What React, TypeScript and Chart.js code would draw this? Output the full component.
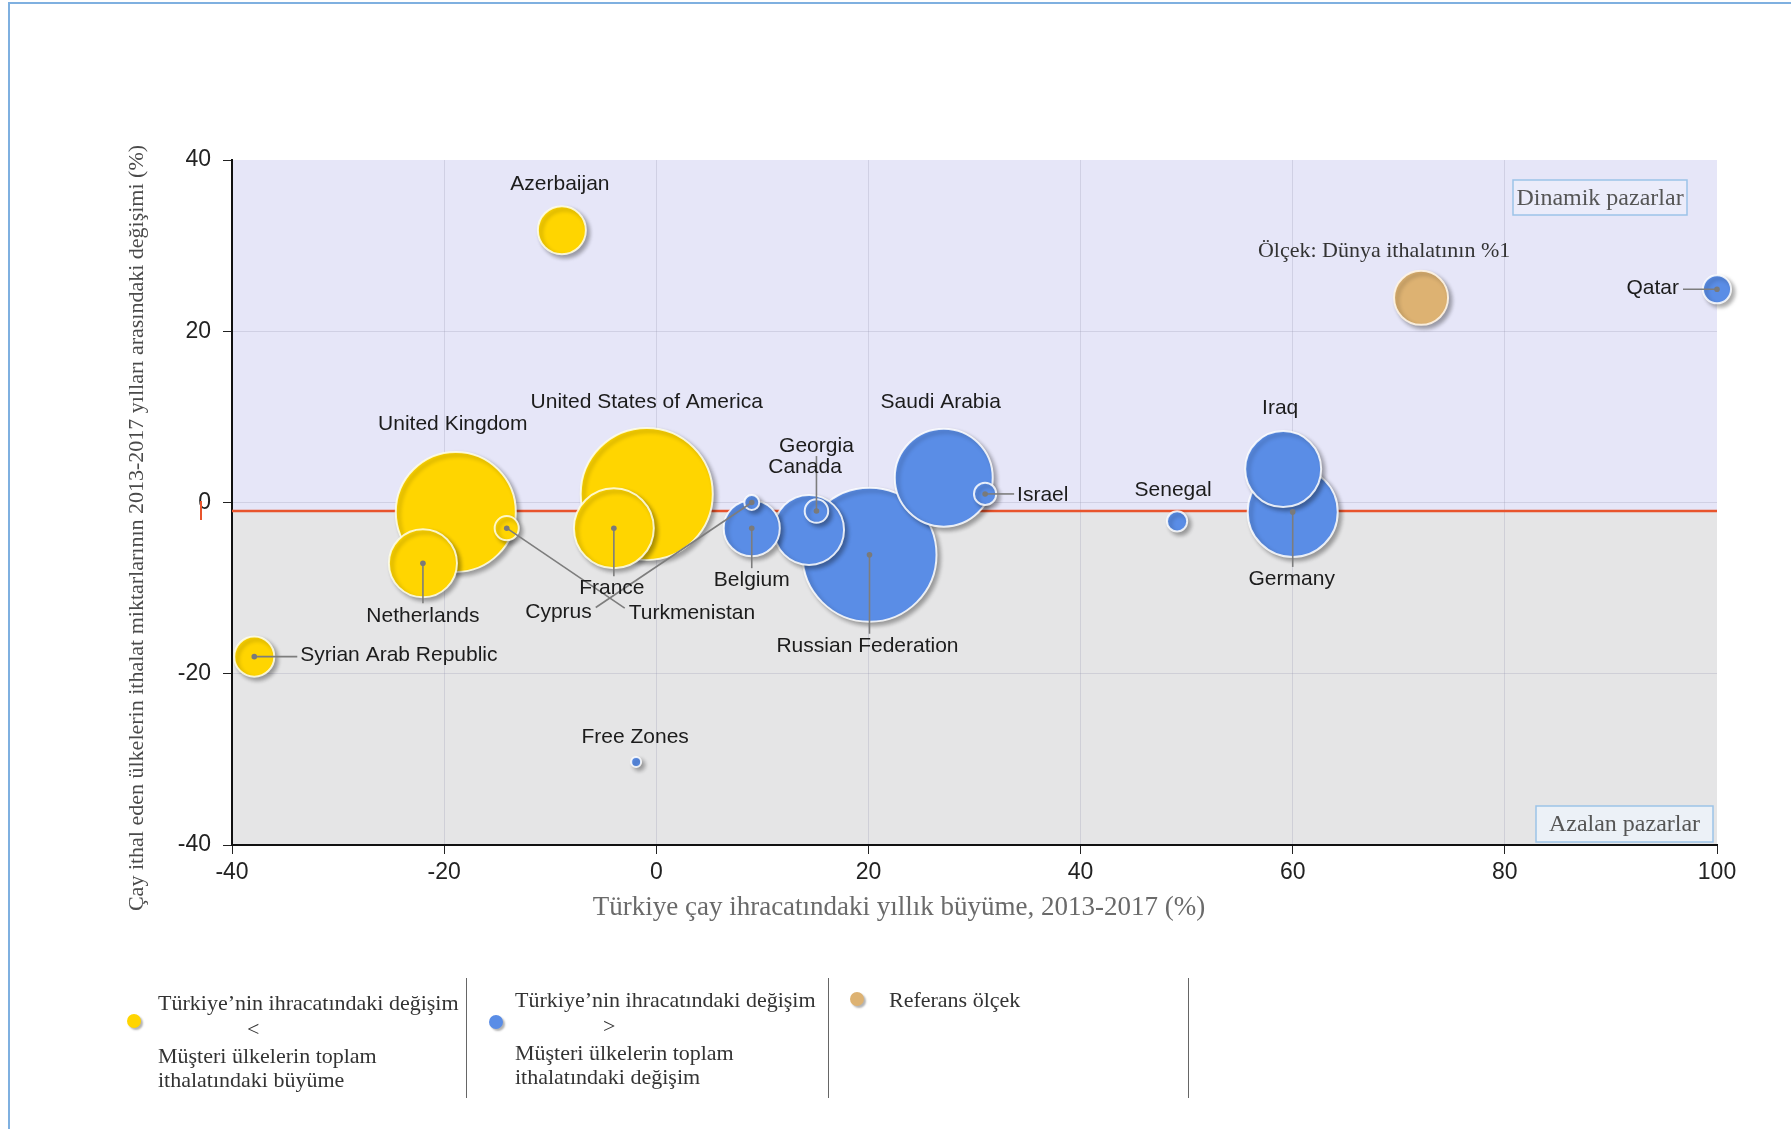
import React, { useEffect, useRef } from "react";
import { Chart, registerables } from "chart.js";

Chart.register(...registerables);

// ---------------- DATA ----------------
const countries = [
  "Azerbaijan", "United Kingdom", "Netherlands", "Turkmenistan", "United States of America",
  "France", "Syrian Arab Republic", "Free Zones", "Belgium", "Cyprus", "Canada", "Georgia",
  "Russian Federation", "Saudi Arabia", "Israel", "Senegal", "Iraq", "Germany", "Qatar",
];
// Türkiye çay ihracatındaki yıllık büyüme, 2013-2017 (%)
const exportGrowth = [
  -8.9, -18.9, -22.0, -14.1, -0.9, -4.0, -37.9, -1.9, 9.0, 9.0, 14.4, 15.1,
  20.1, 27.1, 31.0, 49.1, 59.1, 60.0, 100,
];
// İthalat miktarlarının 2013-2017 arasındaki değişimi (%)
const importChange = [
  31.8, -1.1, -7.1, -3.0, 1.0, -3.0, -18.0, -30.3, -3.0, 0.0, -3.2, -1.0,
  -6.1, 2.9, 1.0, -2.2, 3.9, -1.1, 24.9,
];
// Dünya ithalatındaki pay (%) -> bubble size
const worldImportShare = [
  0.79, 4.94, 1.59, 0.2, 5.98, 2.19, 0.55, 0.034, 1.08, 0.077, 1.68, 0.19,
  6.16, 3.29, 0.17, 0.14, 1.98, 2.78, 0.27,
];
// "<" : Türkiye'nin ihracatındaki değişim < müşteri ülkelerin ithalat büyümesi
const comparison = [
  "<", "<", "<", "<", "<", "<", "<", ">", ">", ">", ">", ">",
  ">", ">", ">", ">", ">", ">", ">",
];
const referenceName = "Ölçek: Dünya ithalatının %1";
const referencePoint = { x: 72.1, y: 23.9, share: 1 };
const worldAverageImportChange = -1;

const xTicks = [-40, -20, 0, 20, 40, 60, 80, 100];
const yTicks = [-40, -20, 0, 20, 40];

// ---------------- STYLES ----------------
const W = 1791;
const H = 1129;
const REF_RADIUS = 27;
const YELLOW = "#FFD500";
const BLUE = "#5A8DE6";
const TAN = "#DDB272";
const SANS = '"Liberation Sans", Arial, sans-serif';
const SERIF = '"Liberation Serif", "Times New Roman", serif';

type LabelStyle = { dx: number; dy: number; align?: CanvasTextAlign; lx?: number; ly?: number };
const labelLayout: Record<string, LabelStyle> = {
  "Azerbaijan": { dx: -2, dy: -46 },
  "United Kingdom": { dx: -3, dy: -88 },
  "United States of America": { dx: 0, dy: -92 },
  "Netherlands": { dx: 0, dy: 53, lx: 0, ly: 40 },
  "Turkmenistan": { dx: 122, dy: 85, align: "left", lx: 118, ly: 80 },
  "France": { dx: -2, dy: 60, lx: 0, ly: 48 },
  "Syrian Arab Republic": { dx: 46, dy: -1, align: "left", lx: 43, ly: 0 },
  "Free Zones": { dx: -1, dy: -25 },
  "Belgium": { dx: 0, dy: 52, lx: 0, ly: 40 },
  "Cyprus": { dx: -160, dy: 110, align: "right", lx: -156, ly: 105 },
  "Canada": { dx: -4, dy: -63 },
  "Georgia": { dx: 0, dy: -65, lx: 0, ly: -55 },
  "Russian Federation": { dx: -2, dy: 91, lx: 0, ly: 79 },
  "Saudi Arabia": { dx: -3, dy: -75 },
  "Israel": { dx: 32, dy: 1, align: "left", lx: 29, ly: 0 },
  "Senegal": { dx: -4, dy: -31 },
  "Iraq": { dx: -3, dy: -61 },
  "Germany": { dx: -1, dy: 67, lx: 0, ly: 55 },
  "Qatar": { dx: -38, dy: -1, align: "right", lx: -34, ly: 0 },
};

function radiusOf(share: number) {
  return REF_RADIUS * Math.sqrt(share);
}

function buildPoints(group: string) {
  const pts = countries
    .map((name, i) => ({
      name,
      x: exportGrowth[i],
      y: importChange[i],
      r: radiusOf(worldImportShare[i]),
      g: comparison[i],
    }))
    .filter((p) => p.g === group);
  pts.sort((a, b) => b.r - a.r);
  return pts;
}

const chartDecor = {
  id: "chartDecor",
  beforeDraw(chart: any) {
    const { ctx, chartArea, scales } = chart;
    const yLine = scales.y.getPixelForValue(worldAverageImportChange);
    ctx.save();
    ctx.fillStyle = "#E6E6F8";
    ctx.fillRect(chartArea.left, chartArea.top, chartArea.right - chartArea.left, yLine - chartArea.top);
    ctx.fillStyle = "#E5E5E6";
    ctx.fillRect(chartArea.left, yLine, chartArea.right - chartArea.left, chartArea.bottom - yLine);
    ctx.restore();
  },
  beforeDatasetsDraw(chart: any) {
    const { ctx, chartArea, scales } = chart;
    const yLine = scales.y.getPixelForValue(worldAverageImportChange);
    ctx.save();
    // quadrant boxes
    ctx.font = `24px ${SERIF}`;
    ctx.textBaseline = "middle";
    ctx.textAlign = "center";
    const boxes = [
      { t: "Dinamik pazarlar", x: 1513, y: 180, w: 174, h: 35, bg: "rgba(236,238,250,0.8)" },
      { t: "Azalan pazarlar", x: 1536, y: 806, w: 177, h: 36, bg: "rgba(236,242,248,0.9)" },
    ];
    for (const b of boxes) {
      ctx.fillStyle = b.bg;
      ctx.fillRect(b.x, b.y, b.w, b.h);
      ctx.strokeStyle = "#9CC3E8";
      ctx.lineWidth = 1.5;
      ctx.strokeRect(b.x, b.y, b.w, b.h);
      ctx.fillStyle = "#555";
      ctx.fillText(b.t, b.x + b.w / 2, b.y + b.h / 2 + 1);
    }
    // red line
    ctx.strokeStyle = "#E8542C";
    ctx.lineWidth = 2.5;
    ctx.beginPath();
    ctx.moveTo(chartArea.left, yLine);
    ctx.lineTo(chartArea.right, yLine);
    ctx.stroke();
    // small red mark by the y tick
    ctx.lineWidth = 2;
    ctx.beginPath();
    ctx.moveTo(201, yLine - 10);
    ctx.lineTo(201, yLine + 9);
    ctx.stroke();
    ctx.restore();
  },
  beforeDatasetDraw(chart: any) {
    const ctx = chart.ctx;
    ctx.save();
    ctx.shadowColor = "rgba(0,0,0,0.33)";
    ctx.shadowBlur = 4;
    ctx.shadowOffsetX = 3;
    ctx.shadowOffsetY = 3;
  },
  afterDatasetDraw(chart: any) {
    chart.ctx.restore();
  },
  afterDatasetsDraw(chart: any) {
    const { ctx } = chart;
    ctx.save();
    const items: any[] = [];
    chart.data.datasets.forEach((ds: any, di: number) => {
      const meta = chart.getDatasetMeta(di);
      ds.data.forEach((p: any, i: number) => {
        const el = meta.data[i];
        items.push({ name: p.name, x: el.x, y: el.y, ref: ds.isRef });
      });
    });
    // leaders
    for (const it of items) {
      const l = labelLayout[it.name];
      if (!l || l.lx === undefined) continue;
      ctx.strokeStyle = "#7d7d7d";
      ctx.lineWidth = 1.6;
      ctx.beginPath();
      ctx.moveTo(it.x, it.y);
      ctx.lineTo(it.x + (l.lx as number), it.y + (l.ly as number));
      ctx.stroke();
      ctx.fillStyle = "#7a7a7a";
      ctx.beginPath();
      ctx.arc(it.x, it.y, 2.8, 0, Math.PI * 2);
      ctx.fill();
    }
    // labels
    ctx.textBaseline = "middle";
    for (const it of items) {
      if (it.ref) {
        ctx.font = `22px ${SERIF}`;
        ctx.fillStyle = "#333";
        ctx.textAlign = "center";
        ctx.fillText(referenceName, it.x - 37, it.y - 47);
        continue;
      }
      const l = labelLayout[it.name];
      if (!l) continue;
      ctx.font = `21px ${SANS}`;
      ctx.fillStyle = "#1c1c1c";
      ctx.textAlign = l.align || "center";
      ctx.fillText(it.name, it.x + l.dx, it.y + l.dy);
    }
    ctx.restore();
  },
  afterDraw(chart: any) {
    const { ctx } = chart;
    ctx.save();
    ctx.textAlign = "center";
    ctx.textBaseline = "middle";
    ctx.font = `27px ${SERIF}`;
    ctx.fillStyle = "#6a6a6a";
    ctx.fillText("Türkiye çay ihracatındaki yıllık büyüme, 2013-2017 (%)", 899, 908);
    ctx.translate(137, 528);
    ctx.rotate(-Math.PI / 2);
    ctx.font = `22px ${SERIF}`;
    ctx.fillStyle = "#4a4a4a";
    ctx.fillText(
      "Çay ithal eden ülkelerin ithalat miktarlarının 2013-2017 yılları arasındaki değişimi (%)",
      0,
      0
    );
    ctx.restore();
  },
};

const gridColor = "rgba(150,150,175,0.28)";

function LegendText({ x, y, children }: { x: number; y: number; children: React.ReactNode }) {
  return (
    <div
      style={{
        position: "absolute",
        left: x,
        top: y,
        transform: "translateY(-50%)",
        fontFamily: SERIF,
        fontSize: 22,
        lineHeight: "24px",
        color: "#333",
        whiteSpace: "nowrap",
      }}
    >
      {children}
    </div>
  );
}

function Dot({ x, y, color }: { x: number; y: number; color: string }) {
  return (
    <div
      style={{
        position: "absolute",
        left: x - 7,
        top: y - 7,
        width: 14,
        height: 14,
        borderRadius: "50%",
        background: color,
        boxShadow: "2px 2px 2px rgba(0,0,0,0.3)",
      }}
    />
  );
}

function Sep({ x }: { x: number }) {
  return (
    <div style={{ position: "absolute", left: x, top: 978, width: 1, height: 120, background: "#666" }} />
  );
}

export default function App() {
  const ref = useRef<HTMLCanvasElement | null>(null);

  useEffect(() => {
    document.body.style.margin = "0";
    const canvas = ref.current;
    if (!canvas) return;
    const chart = new Chart(canvas, {
      type: "bubble",
      data: {
        datasets: [
          {
            label: "Türkiye’nin ihracatındaki değişim > Müşteri ülkelerin toplam ithalatındaki değişim",
            data: buildPoints(">") as any,
            backgroundColor: BLUE,
            borderColor: "rgba(255,255,255,0.85)",
            borderWidth: 2,
            clip: false,
          },
          {
            label: "Türkiye’nin ihracatındaki değişim < Müşteri ülkelerin toplam ithalatındaki büyüme",
            data: buildPoints("<") as any,
            backgroundColor: YELLOW,
            borderColor: "rgba(255,255,235,0.85)",
            borderWidth: 2,
            clip: false,
          },
          {
            label: "Referans ölçek",
            isRef: true,
            data: [{ name: referenceName, x: referencePoint.x, y: referencePoint.y, r: radiusOf(referencePoint.share) }] as any,
            backgroundColor: TAN,
            borderColor: "rgba(255,245,230,0.9)",
            borderWidth: 2,
            clip: false,
          } as any,
        ],
      },
      options: {
        responsive: false,
        animation: false,
        devicePixelRatio: 1,
        layout: { padding: { left: 125, top: 160, right: 74, bottom: 208 } },
        plugins: { legend: { display: false }, tooltip: { enabled: false } },
        events: [],
        scales: {
          x: {
            type: "linear",
            min: -40,
            max: 100,
            afterFit: (s: any) => {
              s.height = 76;
            },
            afterBuildTicks: (s: any) => {
              s.ticks = xTicks.map((v) => ({ value: v }));
            },
            ticks: {
              font: { family: SANS, size: 23 },
              color: "#222",
              padding: 5,
              maxRotation: 0,
            },
            grid: {
              color: (c: any) => (c.tick && (c.tick.value === 100 || c.tick.value === -40) ? "transparent" : gridColor),
              tickColor: "#222",
              tickLength: 9,
              lineWidth: 1,
            },
            border: { color: "#111", width: 2 },
          },
          y: {
            type: "linear",
            min: -40,
            max: 40,
            afterFit: (s: any) => {
              s.width = 107;
            },
            afterBuildTicks: (s: any) => {
              s.ticks = yTicks.map((v) => ({ value: v }));
            },
            ticks: {
              font: { family: SANS, size: 23 },
              color: "#222",
              padding: 12,
            },
            grid: {
              color: (c: any) => (c.tick && (c.tick.value === 40 || c.tick.value === -40) ? "transparent" : gridColor),
              tickColor: "#222",
              tickLength: 9,
              lineWidth: 1,
            },
            border: { color: "#111", width: 2 },
          },
        },
      } as any,
      plugins: [chartDecor],
    });
    return () => chart.destroy();
  }, []);

  return (
    <div style={{ position: "absolute", left: 0, top: 0, width: W, height: H, background: "#fff", overflow: "hidden" }}>
      <div
        style={{
          position: "absolute",
          left: 8,
          top: 2,
          width: W,
          height: H,
          borderTop: "2px solid #7FB0E0",
          borderLeft: "2px solid #7FB0E0",
        }}
      />
      <canvas ref={ref} width={W} height={H} style={{ position: "absolute", left: 0, top: 0, width: W, height: H }} />
      {/* Legend */}
      <Dot x={134} y={1021} color={YELLOW} />
      <LegendText x={158} y={1003}>Türkiye’nin ihracatındaki değişim</LegendText>
      <LegendText x={247} y={1029}>&lt;</LegendText>
      <LegendText x={158} y={1056}>Müşteri ülkelerin toplam</LegendText>
      <LegendText x={158} y={1080}>ithalatındaki büyüme</LegendText>
      <Sep x={466} />
      <Dot x={496} y={1022} color={BLUE} />
      <LegendText x={515} y={1000}>Türkiye’nin ihracatındaki değişim</LegendText>
      <LegendText x={603} y={1026}>&gt;</LegendText>
      <LegendText x={515} y={1053}>Müşteri ülkelerin toplam</LegendText>
      <LegendText x={515} y={1077}>ithalatındaki değişim</LegendText>
      <Sep x={828} />
      <Dot x={857} y={999} color={TAN} />
      <LegendText x={889} y={1000}>Referans ölçek</LegendText>
      <Sep x={1188} />
    </div>
  );
}
